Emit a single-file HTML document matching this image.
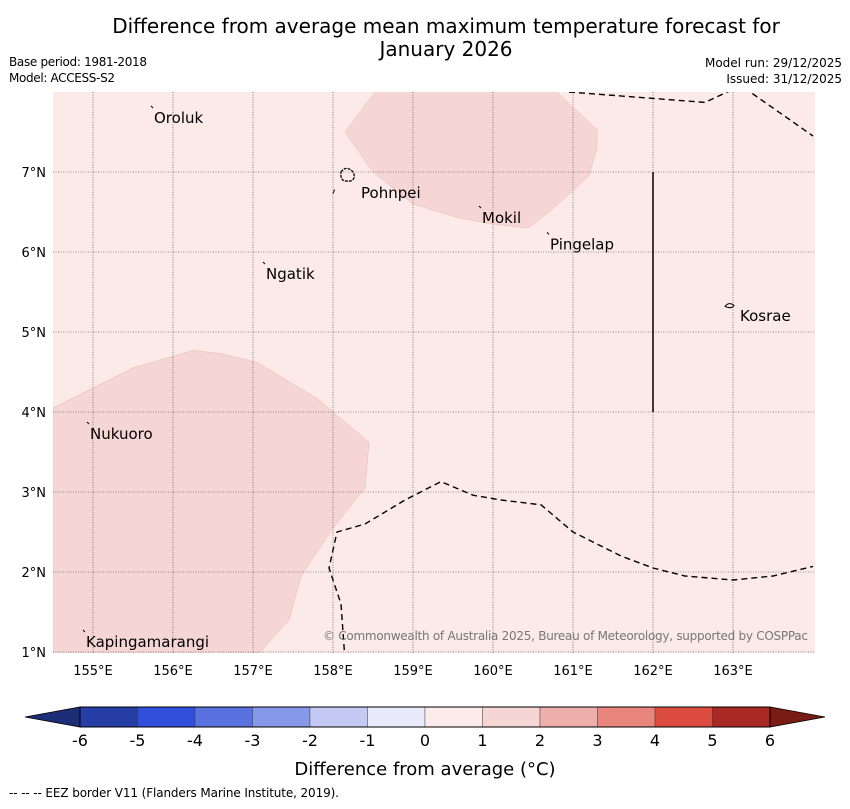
<!DOCTYPE html>
<html><head><meta charset="utf-8"><style>
body{margin:0;background:#fff;width:850px;height:804px;overflow:hidden;font-family:"Liberation Sans","DejaVu Sans",sans-serif}
svg text{font-family:"DejaVu Sans","Liberation Sans",sans-serif}
</style></head><body>
<svg id="c" width="850" height="804" xmlns="http://www.w3.org/2000/svg">
<text x="446" y="33" font-size="20" text-anchor="middle">Difference from average mean maximum temperature forecast for</text>
<text x="446" y="56" font-size="20" text-anchor="middle">January 2026</text>
<text x="9" y="66" font-size="12" textLength="138">Base period: 1981-2018</text>
<text x="9" y="82" font-size="12" textLength="106">Model: ACCESS-S2</text>
<text x="842" y="67" font-size="12" text-anchor="end">Model run: 29/12/2025</text>
<text x="842" y="83" font-size="12" text-anchor="end">Issued: 31/12/2025</text>
<defs><clipPath id="mc"><rect x="53" y="92" width="762" height="561"/></clipPath></defs>
<rect x="53" y="92" width="762" height="561" fill="#fbeae8"/>
<g id="map" clip-path="url(#mc)"></g>
<g id="axes"></g>
<g id="cbar"></g>
<text x="425" y="775" font-size="18" text-anchor="middle">Difference from average (°C)</text>
<text x="9" y="797" font-size="12" textLength="330">--  --  -- EEZ border V11 (Flanders Marine Institute, 2019).</text>
</svg>
<script>
const NS="http://www.w3.org/2000/svg";
const lonTicks=[155,156,157,158,159,160,161,162,163];
const latTicks=[1,2,3,4,5,6,7];
const binEdges=[-6,-5,-4,-3,-2,-1,0,1,2,3,4,5,6];
const binColors=["#263ea6","#3050dc","#5a72e0","#8599e8","#c3c9f2","#e9ebfa","#fbeceb","#f5d6d5","#eeafaa","#e8867e","#dc4b40","#a82a22"];
const islandNames=["Oroluk","Pohnpei","Mokil","Pingelap","Ngatik","Kosrae","Nukuoro","Kapingamarangi"];
const islandLon=[155.75,158.2,159.85,160.7,157.15,162.95,154.95,154.9];
const islandLat=[7.8,6.95,6.55,6.22,5.85,5.3,3.85,1.25];
const anom1West=[[154.5,4.05],[154.9,4.25],[155.5,4.55],[156.25,4.77],[156.6,4.73],[157.05,4.62],[157.8,4.17],[158.45,3.62],[158.4,3.05],[158.0,2.55],[157.6,1.95],[157.45,1.4],[157.0,0.9],[154.5,0.9]];
const anom1North=[[158.6,8.1],[158.15,7.5],[158.5,7.0],[159.0,6.6],[159.6,6.42],[160.0,6.35],[160.44,6.3],[160.7,6.5],[161.2,6.95],[161.3,7.3],[161.3,7.53],[160.9,7.9],[160.7,8.1]];
const eezA=[[160.95,8.0],[162.65,7.87],[163.1,8.08],[164.0,7.45]];
const eezB=[[158.15,0.9],[158.1,1.6],[157.95,2.05],[158.05,2.5],[158.4,2.6],[158.9,2.9],[159.35,3.13],[159.75,2.96],[160.1,2.9],[160.6,2.84],[161.0,2.5],[161.6,2.2],[162.0,2.05],[162.4,1.95],[163.0,1.9],[163.5,1.95],[164.0,2.07]];
const x=lon=>53+(lon-154.5)*80;
const y=lat=>92+(8-lat)*80;
function el(tag,attrs,parent){const e=document.createElementNS(NS,tag);for(const k in attrs)e.setAttribute(k,attrs[k]);parent.appendChild(e);return e;}
const map=document.getElementById('map');
[[anom1West,'anomaly-region-west'],[anom1North,'anomaly-region-north']].forEach(([pts,n])=>{
  const p=el('polygon',{points:pts.map(q=>x(q[0])+','+y(q[1])).join(' '),fill:"#f5d6d5",stroke:"#e8b8b5","stroke-width":0.5},map);
  
  
});
lonTicks.forEach(l=>{const g=el('line',{x1:x(l),x2:x(l),y1:92,y2:653,stroke:"#333","stroke-width":0.6,"stroke-dasharray":"1 1.5"},map);
  
  });
latTicks.forEach(l=>{const g=el('line',{x1:53,x2:815,y1:y(l),y2:y(l),stroke:"#333","stroke-width":0.6,"stroke-dasharray":"1 1.5"},map);
  
  });
[[eezA,'eez-border-north'],[eezB,'eez-border-south']].forEach(([pts,n])=>{
  const p=el('polyline',{points:pts.map(q=>x(q[0])+','+y(q[1])).join(' '),fill:"none",stroke:"#000","stroke-width":1.4,"stroke-dasharray":"6 4"},map);
  
  
});
const vl=el('line',{x1:x(162),x2:x(162),y1:y(7),y2:y(4),stroke:"#000","stroke-width":1.5},map);


el('line',{x1:x(158),y1:y(6.73),x2:x(158.02),y2:y(6.78),stroke:"#000"},map);
islandNames.forEach((n,i)=>{
  const g=el('g',{},map);
  
  
  if(n==='Pohnpei'){el('path',{d:`M${x(158.1)},${y(7.0)} q4,-6 10,-2 q4,3 3,8 q-2,4 -8,3 q-6,0 -5,-9z`,fill:"none",stroke:"#000","stroke-width":1.3,"stroke-dasharray":"3 1"},g);}
  else if(n==='Kosrae'){el('path',{d:`M${x(162.9)},${y(5.32)} q4,-5 9,-1 q-2,4 -9,1z`,fill:"none",stroke:"#000","stroke-width":1},g);}
  else el('line',{x1:x(islandLon[i])-2,y1:y(islandLat[i])-2,x2:x(islandLon[i]),y2:y(islandLat[i]),stroke:"#000","stroke-width":1},g);
  const t=el('text',{x:x(islandLon[i])+1,y:y(islandLat[i])+15,"font-size":15},g);
  if(n==='Pohnpei'){t.setAttribute('x',361);t.setAttribute('y',198);}
  if(n==='Kosrae'){t.setAttribute('x',740);t.setAttribute('y',321);}
  t.textContent=n;
});
const cp=el('text',{x:808,y:640,"font-size":12,fill:"#777","text-anchor":"end",textLength:485},map);
cp.textContent="© Commonwealth of Australia 2025, Bureau of Meteorology, supported by COSPPac";


const ax=document.getElementById('axes');
lonTicks.forEach(l=>{const t=el('text',{x:x(l),y:675,"font-size":13,"text-anchor":"middle"},ax);t.textContent=l+"°E";
  
  });
latTicks.forEach(l=>{const t=el('text',{x:46,y:y(l)+5,"font-size":13,"text-anchor":"end"},ax);t.textContent=l+"°N";
  
  });
const cb=document.getElementById('cbar');
const cx0=80,cx1=770,cy=707,ch=20;
const cx=v=>cx0+(v-binEdges[0])/(binEdges[binEdges.length-1]-binEdges[0])*(cx1-cx0);
const lt=el('polygon',{points:`25,${cy+ch/2} ${cx0},${cy} ${cx0},${cy+ch}`,fill:"#1d2d78",stroke:"#000","stroke-width":0.8},cb);


const rt=el('polygon',{points:`825,${cy+ch/2} ${cx1},${cy} ${cx1},${cy+ch}`,fill:"#7a1c16",stroke:"#000","stroke-width":0.8},cb);


binColors.forEach((c,i)=>{const r=el('rect',{x:cx(binEdges[i]),y:cy,width:cx(binEdges[i+1])-cx(binEdges[i]),height:ch,fill:c,stroke:"#333","stroke-width":0.4},cb);
  
  });
el('rect',{x:cx0,y:cy,width:cx1-cx0,height:ch,fill:"none",stroke:"#000","stroke-width":1},cb);
binEdges.forEach(v=>{const t=el('text',{x:cx(v),y:746,"font-size":16,"text-anchor":"middle"},cb);t.textContent=v;
  
  });
</script>
</body></html>
